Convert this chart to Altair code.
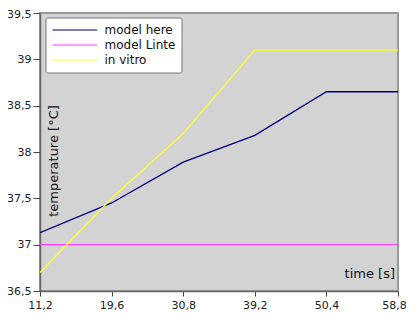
import altair as alt
import pandas as pd

x_labels = ["11,2", "19,6", "30,8", "39,2", "50,4", "58,8"]
series = ["model here", "model Linte", "in vitro"]
model_here = [37.13, 37.45, 37.89, 38.18, 38.65, 38.65]
model_linte = [37.0, 37.0, 37.0, 37.0, 37.0, 37.0]
in_vitro = [36.70, 37.50, 38.20, 39.10, 39.10, 39.10]
colors = ["#000080", "#ff40ff", "#ffff33"]

rows = []
for name, vals in zip(series, [model_here, model_linte, in_vitro]):
    for i, (xl, v) in enumerate(zip(x_labels, vals)):
        rows.append({"series": name, "time": xl, "temp": v, "order": i})
df = pd.DataFrame(rows)

FONT = "DejaVu Sans"

lines = alt.Chart(df).mark_line(strokeWidth=1.3, clip=True).encode(
    x=alt.X("time:O", sort=x_labels,
            scale=alt.Scale(type="point", padding=0),
            axis=alt.Axis(title=None, labelAngle=0, tickSize=5, labelPadding=3,
                          labelFontSize=11, labelFont=FONT, labelColor="#222",
                          labelOffset={"condition": {"test": "datum.label == '58,8'", "value": -4},
                                       "value": 0},
                          domainColor="#666", domainWidth=1.5, tickColor="#444",
                          grid=False)),
    y=alt.Y("temp:Q", scale=alt.Scale(domain=[36.5, 39.5], nice=False, zero=False),
            axis=alt.Axis(title=None, values=[36.5, 37, 37.5, 38, 38.5, 39, 39.5],
                          labelExpr="replace(toString(datum.value), '.', ',')",
                          labelOffset={"condition": {"test": "datum.value == 39.5", "value": 1},
                                       "value": 0},
                          tickSize=7, labelPadding=2, labelFontSize=11, labelFont=FONT,
                          labelColor="#222", domainColor="#666", domainWidth=1.5,
                          tickColor="#444", grid=False)),
    color=alt.Color("series:N", sort=series,
                    scale=alt.Scale(domain=series, range=colors),
                    legend=alt.Legend(title=None, orient="none", legendX=5.5, legendY=4.5,
                                      fillColor="white", strokeColor="#777",
                                      cornerRadius=2, padding=6,
                                      symbolType="M-1,0H7", symbolSize=126,
                                      symbolStrokeWidth=1.2, labelFontSize=12,
                                      labelFont=FONT, labelColor="#111",
                                      labelOffset=40, rowPadding=2)),
    detail="series:N",
    order="order:Q",
)

ytitle = alt.Chart(pd.DataFrame({"t": ["temperature [°C]"]})).mark_text(
    angle=270, align="center", baseline="alphabetic", fontSize=13, font=FONT, color="#111"
).encode(text="t:N", x=alt.value(18), y=alt.value(148))

xtitle = alt.Chart(pd.DataFrame({"t": ["time [s]"]})).mark_text(
    align="right", baseline="alphabetic", fontSize=13, font=FONT, color="#111"
).encode(text="t:N", x=alt.value(355), y=alt.value(265))

chart = alt.layer(lines, ytitle, xtitle).properties(
    width=358, height=278,
    autosize=alt.AutoSizeParams(type="none"),
    padding={"left": 32, "top": 5, "right": 9, "bottom": 20},
    background="white",
).configure_view(
    fill="#d3d3d3", stroke="#999999", strokeWidth=2
)

chart.save("out.html", embed_options={"renderer": "svg", "actions": False})
